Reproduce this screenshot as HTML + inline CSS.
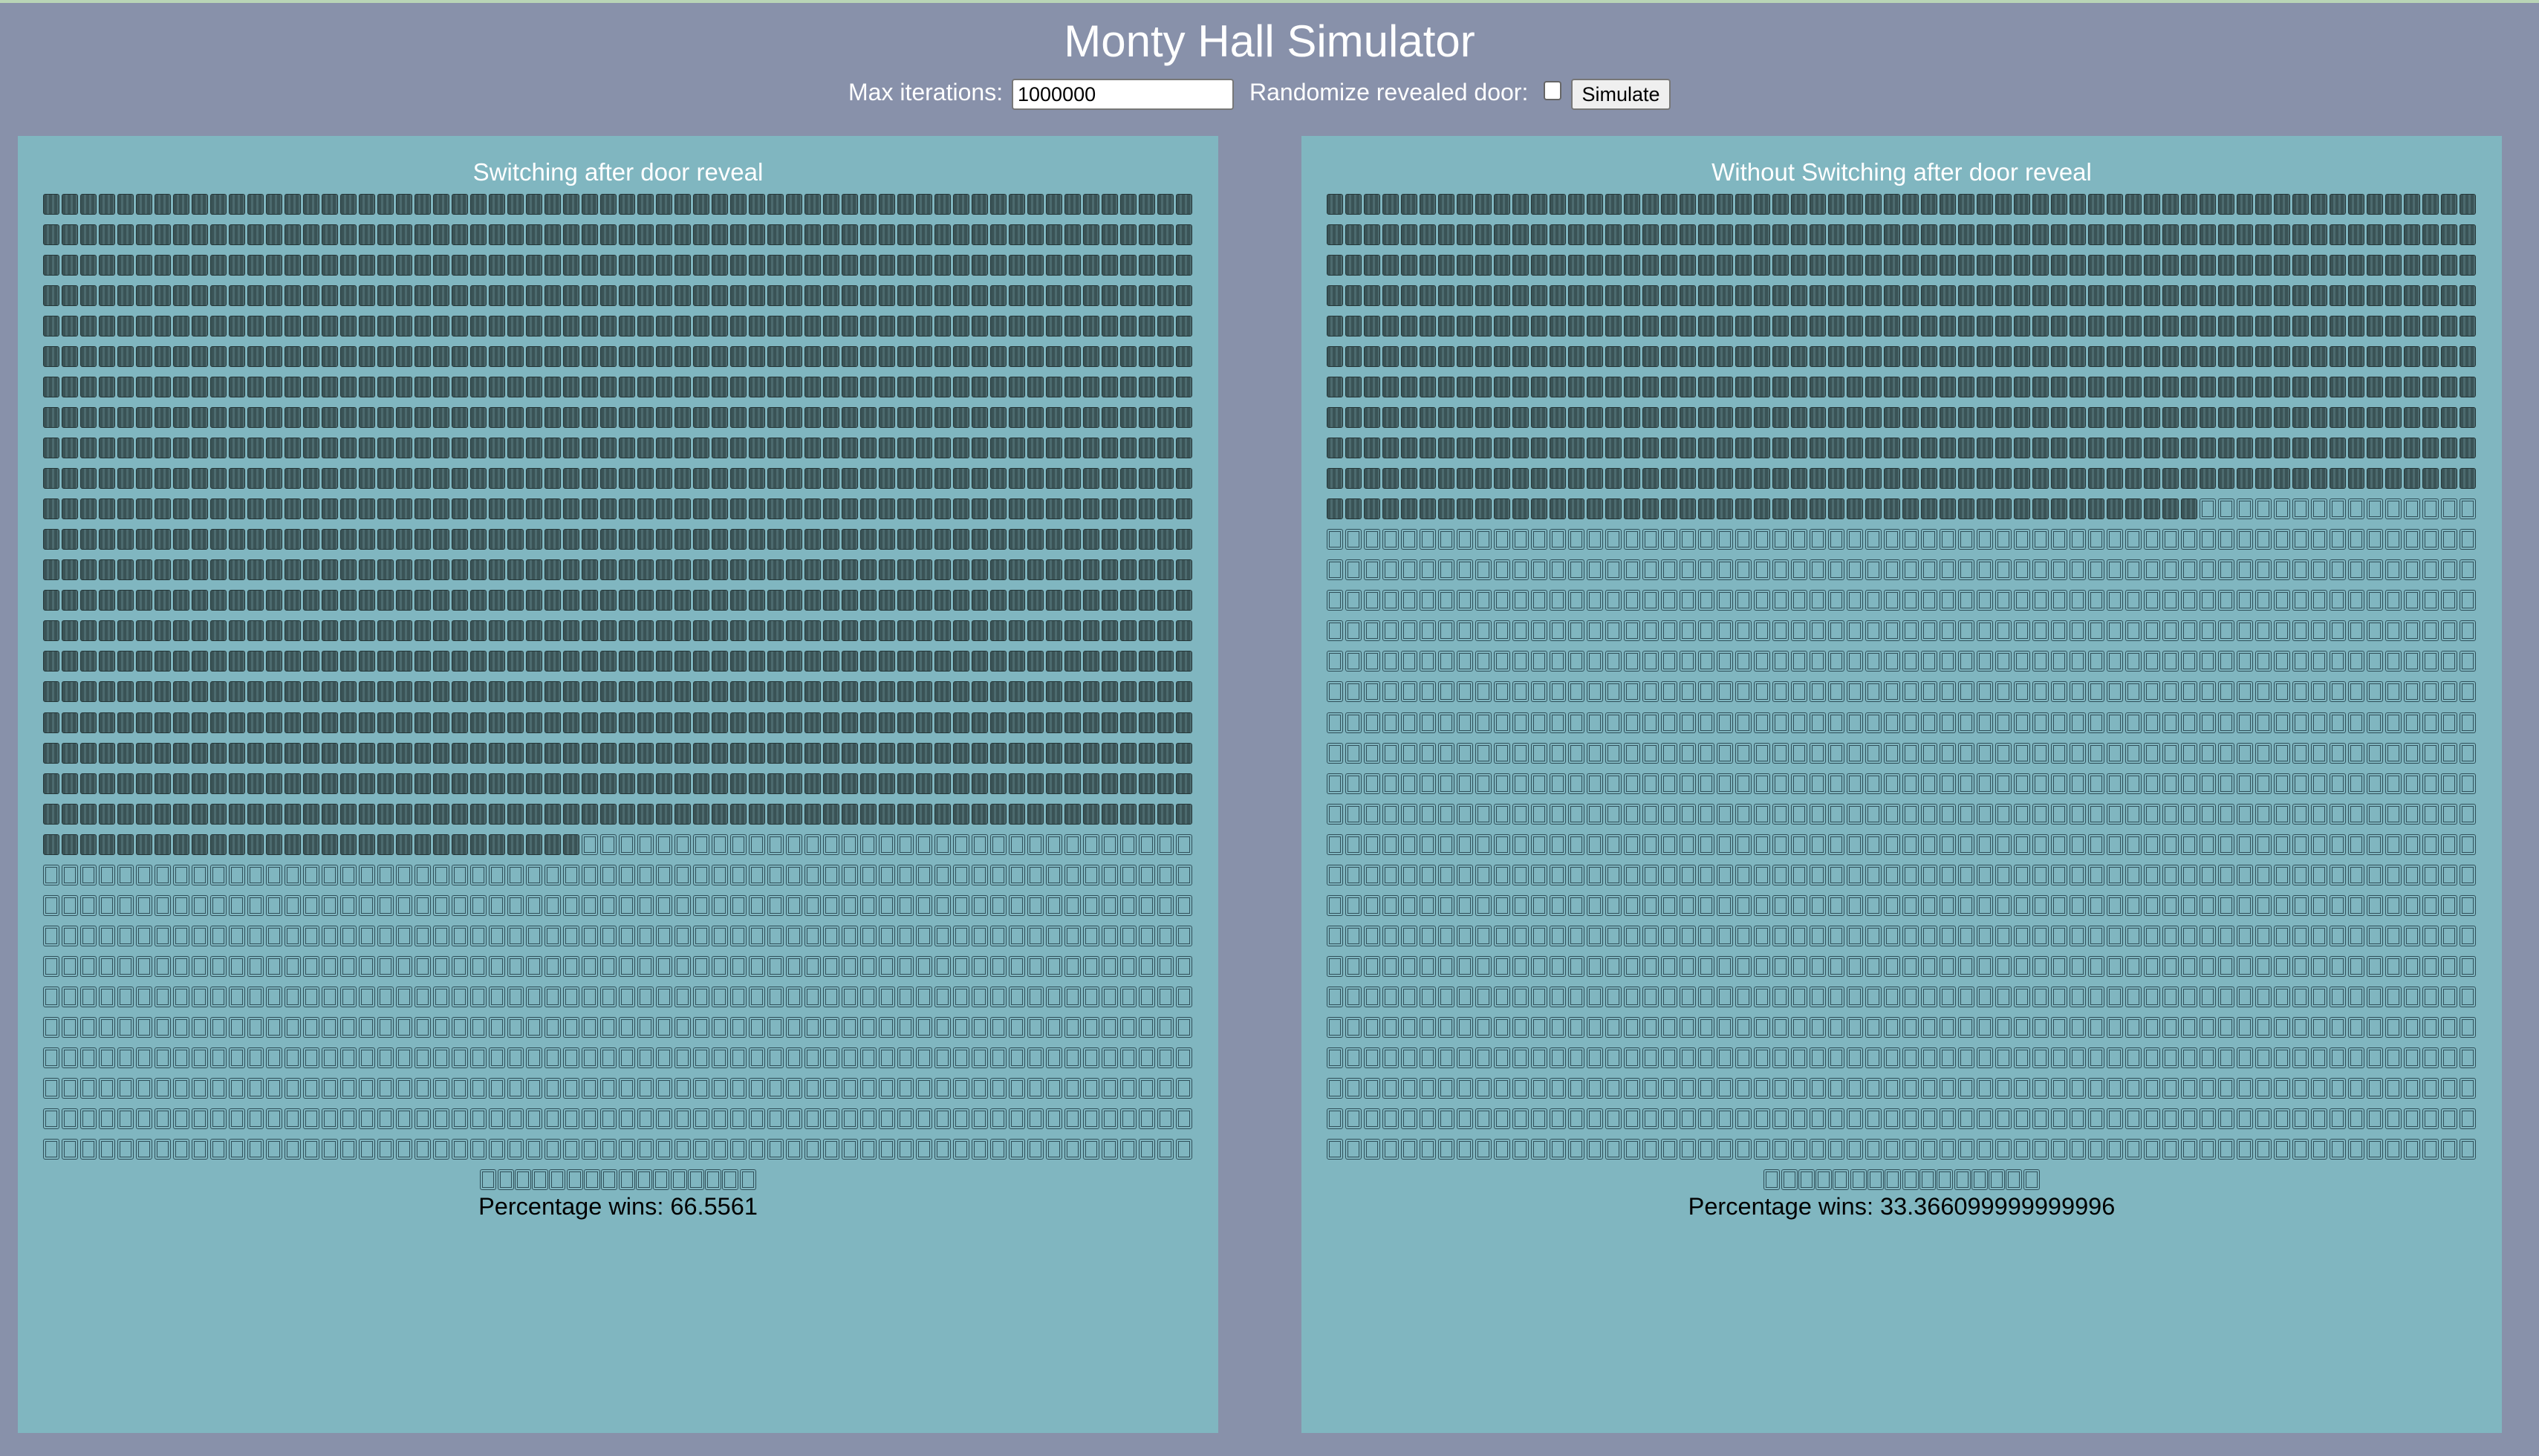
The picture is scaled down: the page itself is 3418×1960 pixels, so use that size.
<!DOCTYPE html>
<html><head><meta charset="utf-8"><style>
html,body{margin:0;padding:0;}
body{width:3418px;height:1960px;background:#8891aa;position:relative;overflow:hidden;font-family:"Liberation Sans",sans-serif;}
#topline{position:absolute;left:0;top:0;width:3418px;height:4px;background:#b9d4b6;}
#title{position:absolute;left:0;width:3418px;top:18px;text-align:center;color:#fff;font-size:60px;line-height:76px;}
.lbl{position:absolute;color:#fff;font-size:32px;line-height:40px;top:104px;}
#iter{position:absolute;left:1362px;top:106px;width:289px;height:38px;background:#fff;border:2px solid #777;border-radius:4px;font-size:27px;line-height:38px;padding-left:6px;box-sizing:content-box;color:#000;}
#chk{position:absolute;left:2078px;top:109px;width:20px;height:22px;background:#fff;border:2px solid #666;border-radius:4px;}
#sim{position:absolute;left:2115px;top:106px;width:130px;height:38px;background:#efefef;border:2px solid #777;border-radius:4px;font-size:27px;line-height:38px;text-align:center;color:#000;}
.panel{position:absolute;top:183px;width:1616px;height:1746px;background:#80b6c0;}
.ptitle{position:absolute;left:0;width:100%;top:212px;text-align:center;color:#fff;font-size:33px;line-height:40px;}
.door{position:absolute;width:22px;height:28px;box-sizing:border-box;border-radius:3px;}
.win{background:repeating-linear-gradient(90deg,#3a5356 0 4px,#4c6a6e 4px 7px);border:1px solid #253638;}
.lose{border:4px double #30505a;}
.pct{position:absolute;left:0;width:100%;top:1604px;text-align:center;color:#000;font-size:32.5px;line-height:40px;}
</style></head><body>
<div id="topline"></div>
<div id="title">Monty Hall Simulator</div>
<div class="lbl" style="left:1142px">Max iterations:</div>
<div id="iter">1000000</div>
<div class="lbl" style="left:1682px">Randomize revealed door:</div>
<div id="chk"></div>
<div id="sim">Simulate</div>

<div class="panel" id="p0" style="left:24px">
 <div class="ptitle" style="top:29px">Switching after door reveal</div>
 <div class="pct" style="top:1421px">Percentage wins: 66.5561</div>
</div>
<div class="panel" id="p1" style="left:1752px">
 <div class="ptitle" style="top:29px">Without Switching after door reveal</div>
 <div class="pct" style="top:1421px">Percentage wins: 33.366099999999996</div>
</div>
<script>
const panelIds = ["p0", "p1"];
const winPercentages = [66.5561, 33.366099999999996];
const totalDoors = [2000, 2000];
const COLS = 62, PITCHX = 25.0, PITCHY = 41.03, X0 = 34.3, Y0 = 78, DW = 22, LASTPITCH = 23.3;
panelIds.forEach(function(id, p){
  const panel = document.getElementById(id);
  const total = totalDoors[p];
  const wins = Math.round(winPercentages[p] / 100 * total);
  const fullRows = Math.floor(total / COLS);
  for (let i = 0; i < total; i++) {
    const r = Math.floor(i / COLS), c = i % COLS;
    let x;
    if (r < fullRows) { x = X0 + c * PITCHX; }
    else {
      const n = total - fullRows * COLS;
      const w = (n - 1) * LASTPITCH + DW;
      x = (1616 - w) / 2 + c * LASTPITCH;
    }
    const d = document.createElement('div');
    d.className = 'door ' + (i < wins ? 'win' : 'lose');
    d.style.left = x + 'px';
    d.style.top = (Y0 + r * PITCHY) + 'px';
    
    
    panel.appendChild(d);
  }
});
</script>
</body></html>
